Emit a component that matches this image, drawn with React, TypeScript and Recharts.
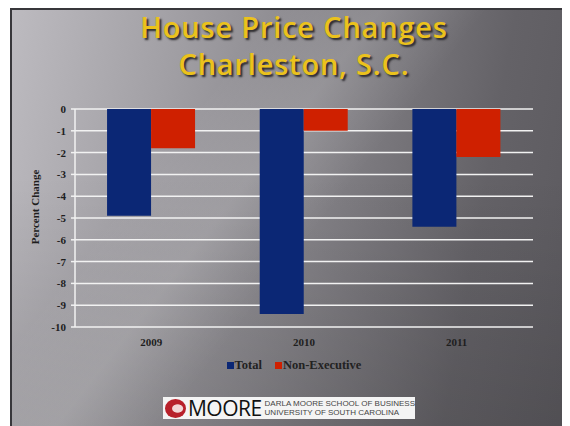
import { BarChart, Bar, XAxis, YAxis, CartesianGrid, Legend } from 'recharts';

// Values (percent change)
const years = ['2009', '2010', '2011'];
const totalChange = [-4.9, -9.4, -5.4];
const nonExecutiveChange = [-1.8, -1.0, -2.2];
const yTicks = [0, -1, -2, -3, -4, -5, -6, -7, -8, -9, -10];
const seriesOrder = ['Total', 'Non-Executive'];

const data = years.map((year, i) => ({
  year,
  total: totalChange[i],
  nonExecutive: nonExecutiveChange[i],
}));

const serif = '"Liberation Serif", "DejaVu Serif", serif';
const NAVY = '#0b2775';
const RED = '#cf2000';

const YAxisTitle = (props: any) => {
  const { viewBox } = props;
  const cx = viewBox.x + 25;
  const cy = viewBox.y + viewBox.height / 2 - 11;
  return (
    <text
      x={cx}
      y={cy}
      transform={`rotate(-90, ${cx}, ${cy})`}
      textAnchor="middle"
      dominantBaseline="central"
      style={{ fontFamily: serif, fontWeight: 700, fontSize: 11, fill: '#1e1e1e' }}
    >
      Percent Change
    </text>
  );
};

const renderLegend = (props: any) => {
  const payload = [...(props.payload || [])].sort(
    (a: any, b: any) => seriesOrder.indexOf(a.value) - seriesOrder.indexOf(b.value)
  );
  return (
    <div
      style={{
        display: 'flex',
        justifyContent: 'center',
        gap: 13,
        fontFamily: serif,
        fontWeight: 700,
        fontSize: 12.5,
        color: '#222',
        lineHeight: '14px',
      }}
    >
      {payload.map((entry: any) => (
        <span key={entry.value} style={{ display: 'flex', alignItems: 'center' }}>
          <span
            style={{
              display: 'inline-block',
              width: 7,
              height: 7,
              background: entry.color,
              marginRight: 1,
            }}
          />
          {entry.value}
        </span>
      ))}
    </div>
  );
};

export default function App() {
  return (
    <div
      style={{
        position: 'relative',
        width: 560,
        height: 418,
        marginLeft: 2,
        overflow: 'hidden',
        background:
          'linear-gradient(128deg, rgba(255,255,255,0) 30%, rgba(255,255,255,0.13) 42%, rgba(255,255,255,0) 54%),' +
          'linear-gradient(to bottom, rgba(0,0,0,0) 40%, rgba(0,0,0,0.12) 100%),' +
          'linear-gradient(100deg, #bdbbc0 0%, #a3a1a6 25%, #828085 55%, #646267 80%, #5b595e 100%)',
        boxShadow: 'inset 2px 2px 0 #38373b',
      }}
    >
      <div
        style={{
          position: 'absolute',
          top: 0,
          left: 0,
          width: 568,
          textAlign: 'center',
          fontFamily: '"Open Sans", Lato, sans-serif',
          fontWeight: 600,
          fontSize: 29,
          letterSpacing: 0.8,
          lineHeight: '37px',
          color: '#ebc21c',
          textShadow: '2px 2px 2px #2a292c',
        }}
      >
        House Price Changes
        <br />
        Charleston, S.C.
      </div>

      <div style={{ position: 'absolute', left: 0, top: 0 }}>
        <BarChart
          width={560}
          height={418}
          data={data}
          margin={{ top: 101, right: 37, left: 0, bottom: 69 }}
          barCategoryGap="21%"
          barGap={0}
        >
          <CartesianGrid vertical={false} stroke="#f2f2f2" strokeWidth={1.5} />
          <XAxis
            dataKey="year"
            height={30}
            axisLine={false}
            tickLine={false}
            tickMargin={5}
            tick={{ fontFamily: serif, fontWeight: 700, fontSize: 11, fill: '#1e1e1e' }}
          />
          <YAxis
            width={65}
            domain={[-10, 0]}
            ticks={yTicks}
            interval={0}
            axisLine={{ stroke: '#f2f2f2', strokeWidth: 1.5 }}
            tickLine={{ stroke: '#f2f2f2', strokeWidth: 1.5 }}
            tickSize={4}
            tickMargin={5}
            tick={{ fontFamily: serif, fontWeight: 700, fontSize: 11, fill: '#1e1e1e' }}
            label={<YAxisTitle />}
          />
          <Legend
            layout="vertical"
            align="center"
            verticalAlign="middle"
            content={renderLegend}
            wrapperStyle={{ top: 350, left: 0, width: 568 }}
          />
          <Bar dataKey="total" name="Total" fill={NAVY} isAnimationActive={false} />
          <Bar dataKey="nonExecutive" name="Non-Executive" fill={RED} isAnimationActive={false} />
        </BarChart>
      </div>

      {/* school logo strip */}
      <div
        style={{
          position: 'absolute',
          left: 153,
          top: 389,
          width: 252,
          height: 22,
          background: '#f4f4f4',
          display: 'flex',
          alignItems: 'center',
        }}
      >
        <div
          style={{
            width: 36,
            height: 19,
            marginLeft: 2,
            borderRadius: '50%',
            background: 'radial-gradient(ellipse at 60% 50%, #f3d6d6 0 28%, #b8202a 34%)',
          }}
        />
        <span
          style={{
            fontFamily: '"Open Sans", sans-serif',
            fontSize: 21,
            lineHeight: '22px',
            color: '#111',
            marginLeft: 2,
            letterSpacing: -0.5,
          }}
        >
          MOORE
        </span>
        <div
          style={{
            fontFamily: '"Liberation Sans", sans-serif',
            fontSize: 8,
            lineHeight: '9px',
            color: '#444',
            marginLeft: 3,
            whiteSpace: 'nowrap',
          }}
        >
          DARLA MOORE SCHOOL OF BUSINESS
          <br />
          UNIVERSITY OF SOUTH CAROLINA
        </div>
      </div>
    </div>
  );
}
